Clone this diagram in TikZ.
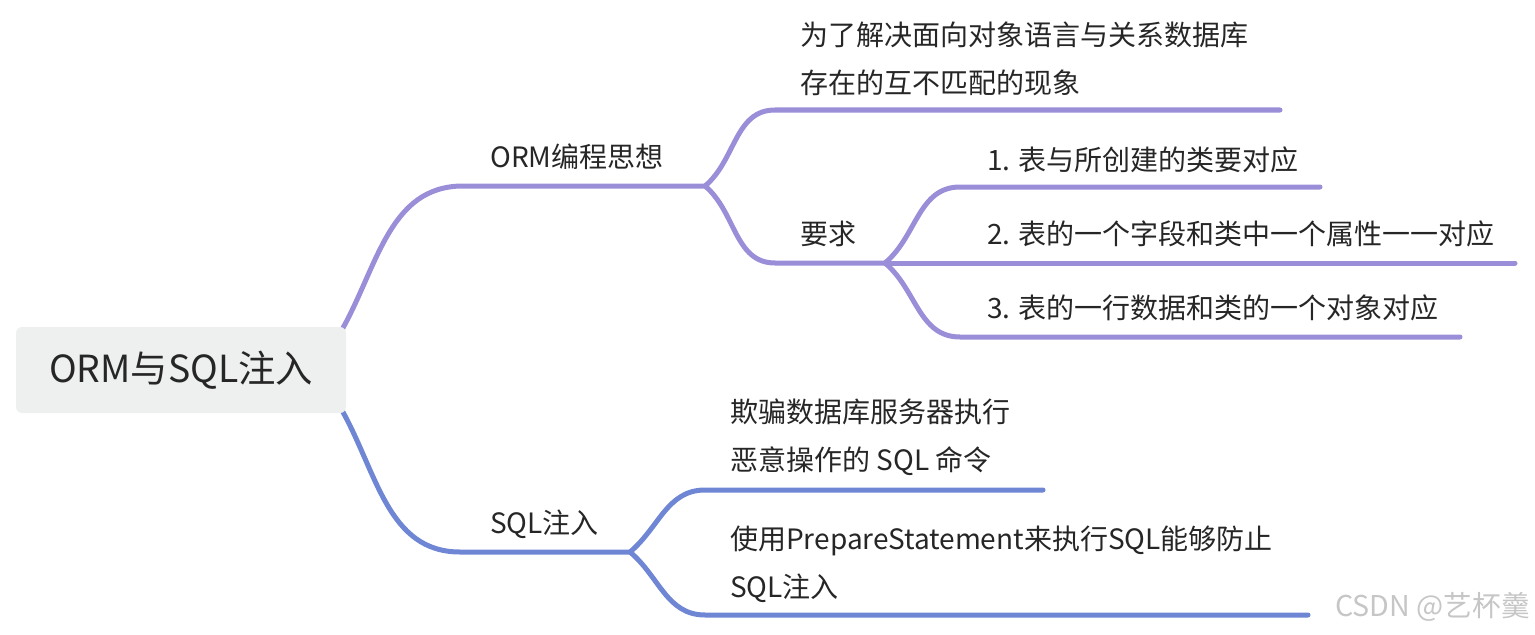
\documentclass[tikz,border=0pt]{standalone}
\usepackage{fontspec}
\setmainfont{Noto Sans CJK SC}
\usetikzlibrary{backgrounds}
\definecolor{lilac}{HTML}{9B8ED9}
\definecolor{cobalt}{HTML}{6E86D4}
\definecolor{rootbg}{HTML}{EEF0EF}
\definecolor{ink}{HTML}{262626}
\definecolor{wmgray}{HTML}{C6C6C6}
\tikzset{
  rootbox/.style={fill=rootbg,rounded corners=4.5pt,minimum width=247.5pt,minimum height=64.5pt,inner sep=0pt,font=\fontsize{28}{34}\selectfont,text=ink},
  topic/.style={anchor=west,inner sep=0pt,font=\fontsize{21}{36}\selectfont,text=ink,align=left},
  twig/.style={line width=3.75pt,line cap=round,draw=#1},
  wmark/.style={anchor=west,inner sep=0pt,font=\fontsize{21.5}{24}\selectfont,text=wmgray},
}

\begin{document}
\begin{tikzpicture}[x=0.75pt,y=-0.75pt]
    \useasboundingbox (0,0) rectangle (1535,635);
    % topics
    \node[rootbox] (root) at (181,370) {ORM与SQL注入};
    \node[topic] (orm) at (490,157) {ORM编程思想};
    \node[topic] (why) at (800,59) {为了解决面向对象语言与关系数据库\\存在的互不匹配的现象};
    \node[topic] (req) at (800,234) {要求};
    \node[topic] (req1) at (987,160) {1. 表与所创建的类要对应};
    \node[topic] (req2) at (987,234) {2. 表的一个字段和类中一个属性一一对应};
    \node[topic] (req3) at (987,308) {3. 表的一行数据和类的一个对象对应};
    \node[topic] (sql) at (490,524) {SQL注入};
    \node[topic] (lie) at (730,437.5) {欺骗数据库服务器执行\\恶意操作的 SQL 命令};
    \node[topic] (fix) at (730,564) {使用PrepareStatement来执行SQL能够防止\\SQL注入};
    \node[wmark] (wm) at (1335,607) {CSDN @艺杯羹};
    % underline ends
    \coordinate (orm-a) at (463,186);  \coordinate (orm-b) at (705,186);
    \coordinate (why-a) at (775,110);  \coordinate (why-b) at (1280,110);
    \coordinate (req-a) at (775,263);  \coordinate (req-b) at (885,263);
    \coordinate (req1-a) at (960,187); \coordinate (req1-b) at (1320,187);
    \coordinate (req2-b) at (1515,263);
    \coordinate (req3-a) at (960,337); \coordinate (req3-b) at (1460,337);
    \coordinate (sql-a) at (460,552);  \coordinate (sql-b) at (630,552);
    \coordinate (lie-a) at (705,490);  \coordinate (lie-b) at (1043,490);
    \coordinate (fix-a) at (705,615);  \coordinate (fix-b) at (1308,615);
    \begin{scope}[on background layer]
      \draw[twig=lilac] ([shift={(-6,6)}]root.north east) to[out=60,in=180] (orm-a) -- (orm-b);
      \draw[twig=lilac] (orm-b) to[out=40,in=180] (why-a) -- (why-b);
      \draw[twig=lilac] (orm-b) to[out=-40,in=180] (req-a) -- (req-b);
      \draw[twig=lilac] (req-b) to[out=40,in=180] (req1-a) -- (req1-b);
      \draw[twig=lilac] (req-b) -- (req2-b);
      \draw[twig=lilac] (req-b) to[out=-40,in=180] (req3-a) -- (req3-b);
      \draw[twig=cobalt] ([shift={(-6,-6)}]root.south east) to[out=-60,in=180] (sql-a) -- (sql-b);
      \draw[twig=cobalt] (sql-b) to[out=40,in=180] (lie-a) -- (lie-b);
      \draw[twig=cobalt] (sql-b) to[out=-40,in=180] (fix-a) -- (fix-b);
    \end{scope}
  \end{tikzpicture}
\end{document}
